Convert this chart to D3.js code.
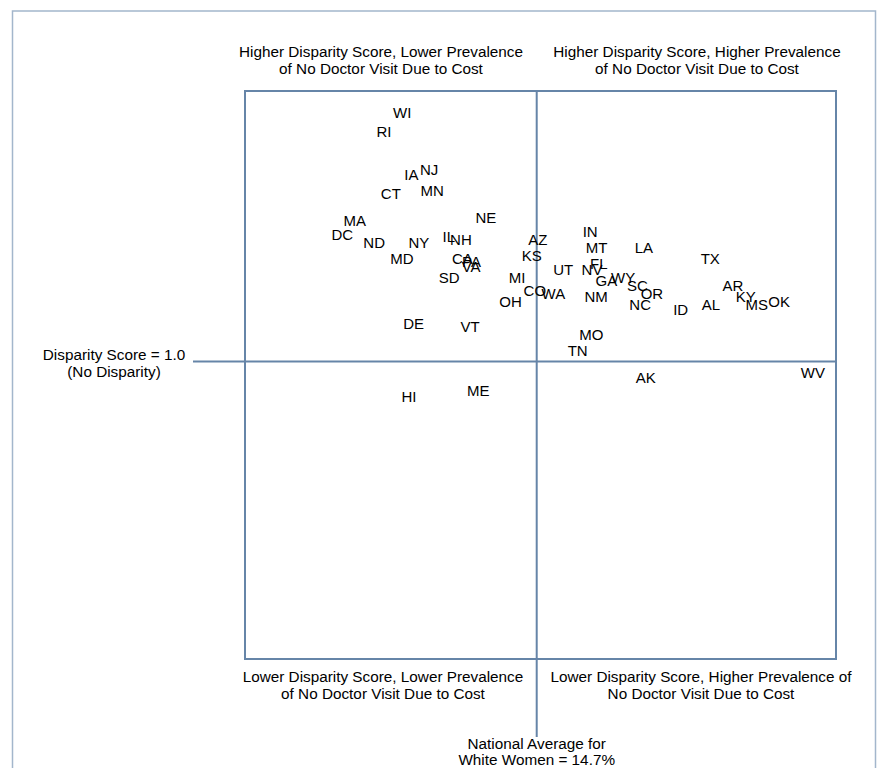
<!DOCTYPE html>
<html>
<head>
<meta charset="utf-8">
<script src="https://cdn.jsdelivr.net/npm/d3@7"></script>
<style>
  body { margin: 0; background: #fff; }
  svg { display: block; font-family: "Liberation Sans", Arial, sans-serif; }
</style>
</head>
<body>
<svg id="chart"></svg>
<script>
// state labels, prevalence of no doctor visit due to cost (%) vs disparity score
const states = ["WI","RI","IA","NJ","CT","MN","MA","DC","ND","NY","NE","IL","NH","AZ",
  "MD","CA","PA","VA","KS","SD","MI","CO","OH","DE","VT","HI","ME",
  "IN","MT","LA","TX","UT","NV","FL","GA","WY","SC","OR","NC","WA","NM","ID",
  "AL","AR","KY","MS","OK","MO","TN","AK","WV"];
const prevalence = [11.15,10.67,11.39,11.86,10.85,11.94,9.90,9.57,10.41,11.59,13.36,12.38,12.70,14.73,
  11.14,12.74,12.98,12.97,14.57,12.39,14.18,14.65,14.01,11.45,12.94,11.33,13.16,
  16.11,16.28,17.53,19.28,15.40,16.16,16.34,16.54,16.98,17.36,17.74,17.43,15.14,16.27,18.50,
  19.30,19.88,20.22,20.51,21.10,16.14,15.78,17.58,21.99];
const disparity = [1.92,1.85,1.69,1.71,1.62,1.63,1.52,1.47,1.44,1.44,1.53,1.46,1.45,1.45,
  1.38,1.38,1.37,1.35,1.39,1.31,1.31,1.26,1.22,1.14,1.13,0.87,0.89,
  1.48,1.42,1.42,1.38,1.34,1.34,1.36,1.30,1.31,1.28,1.25,1.21,1.25,1.24,1.19,
  1.21,1.28,1.24,1.21,1.22,1.10,1.04,0.94,0.96];

const nationalAvg = 14.7;
const noDisparity = 1.0;

const quadrantTop = [
  ["Higher Disparity Score, Lower Prevalence", "of No Doctor Visit Due to Cost"],
  ["Higher Disparity Score, Higher Prevalence", "of No Doctor Visit Due to Cost"]
];
const quadrantBottom = [
  ["Lower Disparity Score, Lower Prevalence", "of No Doctor Visit Due to Cost"],
  ["Lower Disparity Score, Higher Prevalence of", "No Doctor Visit Due to Cost"]
];
const refLabelY = ["Disparity Score = 1.0", "(No Disparity)"];
const refLabelX = ["National Average for", "White Women = 14.7%"];

const width = 877;
const height = 768;
const lineColor = "#6685a8";

const x = d3.scaleLinear([7, 22.6], [245, 836]);
const y = d3.scaleLinear([-0.1, 2], [659, 91]);

const svg = d3.select("#chart")
    .attr("width", width)
    .attr("height", height)
    .attr("viewBox", [0, 0, width, height]);

// outer frame
svg.append("rect")
    .attr("x", 12.5)
    .attr("y", 11)
    .attr("width", 863)
    .attr("height", 800)
    .attr("fill", "none")
    .attr("stroke", "#a3b6cc")
    .attr("stroke-width", 1.5);

const [x0, x1] = x.range();
const [y0, y1] = y.range();

// plot box
svg.append("rect")
    .attr("x", x0)
    .attr("y", y1)
    .attr("width", x1 - x0)
    .attr("height", y0 - y1)
    .attr("fill", "none")
    .attr("stroke", lineColor)
    .attr("stroke-width", 2);

// reference lines
svg.append("line")
    .attr("x1", 193).attr("x2", x1)
    .attr("y1", y(noDisparity)).attr("y2", y(noDisparity))
    .attr("stroke", lineColor)
    .attr("stroke-width", 2);

svg.append("line")
    .attr("x1", x(nationalAvg)).attr("x2", x(nationalAvg))
    .attr("y1", y1).attr("y2", 737)
    .attr("stroke", lineColor)
    .attr("stroke-width", 2);

const multiline = (lines, cx, cy, lh) => {
  const t = svg.append("text")
      .attr("text-anchor", "middle")
      .attr("font-size", 15.3)
      .attr("fill", "#000");
  lines.forEach((s, i) => {
    t.append("tspan")
        .attr("x", cx)
        .attr("y", cy + i * lh)
        .attr("dy", "0.35em")
        .text(s);
  });
};

multiline(quadrantTop[0], 381, 52, 16.5);
multiline(quadrantTop[1], 697, 52, 16.5);
multiline(quadrantBottom[0], 383, 677, 16.5);
multiline(quadrantBottom[1], 701, 677, 16.5);
multiline(refLabelY, 114, 355, 16.5);
multiline(refLabelX, x(nationalAvg), 744, 16);

// state labels
svg.append("g")
    .attr("font-size", 15)
    .attr("text-anchor", "middle")
    .attr("fill", "#000")
  .selectAll("text")
  .data(states)
  .join("text")
    .attr("x", (d, i) => x(prevalence[i]))
    .attr("y", (d, i) => y(disparity[i]))
    .attr("dy", "0.35em")
    .text(d => d);
</script>
</body>
</html>
